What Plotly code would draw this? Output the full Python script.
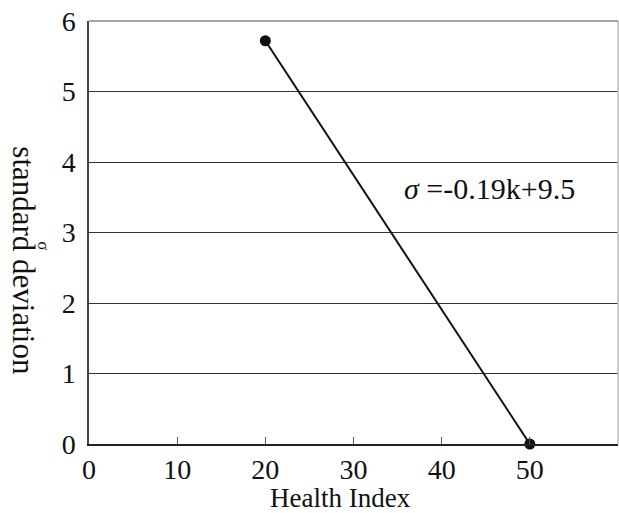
import plotly.graph_objects as go

health_index = [20, 50]
std_dev = [5.72, 0.0]
x_ticks = [0, 10, 20, 30, 40, 50]
y_ticks = [0, 1, 2, 3, 4, 5, 6]
x_title = "Health Index"
y_title = "standard deviation"
equation = "<i>σ</i> =-0.19k+9.5"

FONT = "Liberation Serif, Times New Roman, serif"


def f(size):
    return dict(family=FONT, size=size, color="#111111")


fig = go.Figure()
fig.add_trace(go.Scatter(
    x=health_index, y=std_dev, mode="lines+markers",
    line=dict(color="#111111", width=2),
    marker=dict(color="#111111", size=11),
    showlegend=False, cliponaxis=False,
))

fig.update_layout(
    width=619, height=513,
    margin=dict(l=89, r=1, t=21, b=69),
    paper_bgcolor="white", plot_bgcolor="white",
    font=f(28),
    xaxis=dict(
        range=[0, 60], tickvals=x_ticks, ticks="inside", ticklen=7,
        tickcolor="#555555", showgrid=False, zeroline=False,
        showline=True, linecolor="#222222", linewidth=1.5,
        tickfont=f(28), ticklabelstandoff=0,
    ),
    yaxis=dict(
        range=[0, 6], tickvals=y_ticks, ticks="", showgrid=True,
        gridcolor="#333333", gridwidth=1, zeroline=False,
        showline=True, linecolor="#444444", linewidth=1.5,
        tickfont=f(28), ticklabelstandoff=6,
    ),
    shapes=[
        dict(type="line", xref="paper", yref="paper", x0=1, x1=1, y0=0, y1=1,
             line=dict(color="#bbbbbb", width=1.5)),
        dict(type="line", xref="paper", yref="paper", x0=0, x1=1, y0=1, y1=1,
             line=dict(color="#888888", width=1.5)),
    ],
    annotations=[
        dict(text=x_title, xref="paper", yref="paper",
             x=0.4745, y=-0.127, xanchor="center", yanchor="middle",
             showarrow=False, font=f(27)),
        dict(text=y_title, textangle=90, xref="paper", yref="paper",
             x=-0.123, y=0.432, xanchor="center", yanchor="middle",
             showarrow=False, font=f(31)),
        dict(text="σ", textangle=90, xref="paper", yref="paper",
             x=-0.085, y=0.47, xanchor="center", yanchor="middle",
             showarrow=False, font=f(17)),
        dict(text=equation, x=35.5, y=3.63, xref="x", yref="y",
             xanchor="left", yanchor="middle", showarrow=False,
             font=f(30)),
    ],
)

fig.write_html("out.html", config={"displayModeBar": False},
               post_script="document.body.style.margin='0';")
